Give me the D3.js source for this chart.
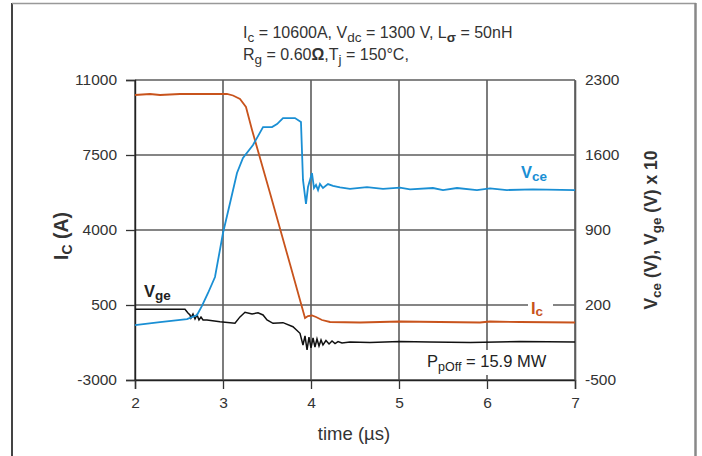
<!DOCTYPE html>
<html>
<head>
<meta charset="utf-8">
<script src="https://cdn.jsdelivr.net/npm/d3@7"></script>
<style>
  body { margin: 0; background: #fff; }
  text { font-family: "Liberation Sans", Arial, Helvetica, sans-serif; fill: #333; }
</style>
</head>
<body>
<div id="chart"></div>
<script>
// ---- data ----
var xTicks = [2, 3, 4, 5, 6, 7];
var leftTicks = [-3000, 500, 4000, 7500, 11000];
var rightTicks = [-500, 200, 900, 1600, 2300];

// collector current (A)
var icTime = [2.0, 2.17, 2.284, 2.511, 3.045, 3.114, 3.193, 3.261, 3.33, 3.534, 3.761, 3.932, 3.966, 4.011, 4.057, 4.125, 4.216, 4.557, 5.011, 5.466, 5.92, 6.034, 6.375, 7.0];
var icVal  = [10300, 10347, 10300, 10347, 10347, 10277, 10113, 9740, 8667, 5727, 2413, -107, -13, 10, -60, -200, -293, -317, -270, -293, -317, -270, -293, -317];

// collector-emitter voltage (V)
var vceTime = [2.0, 2.284, 2.591, 2.705, 2.761, 2.83, 2.909, 3.0, 3.08, 3.159, 3.227, 3.341, 3.455, 3.557, 3.614, 3.682, 3.818, 3.886, 3.909, 3.943, 3.966, 4.011, 4.034, 4.057, 4.08, 4.102, 4.136, 4.193, 4.25, 4.33, 4.443, 4.636, 4.818, 5.011, 5.125, 5.386, 5.5, 5.659, 5.886, 6.034, 6.227, 6.523, 7.0];
var vceVal  = [13, 41, 69, 107, 191, 312, 461, 872, 1152, 1432, 1572, 1693, 1861, 1861, 1889, 1945, 1945, 1908, 1367, 1143, 1301, 1432, 1292, 1320, 1273, 1329, 1292, 1329, 1311, 1297, 1283, 1301, 1283, 1295, 1280, 1292, 1273, 1292, 1273, 1289, 1273, 1280, 1273];

// gate-emitter voltage (V), plotted x10 on the right axis
var vgeTime = [2.0, 2.568, 2.602, 2.625, 2.636, 2.659, 2.682, 2.705, 2.727, 2.75, 2.773, 2.818, 2.966, 3.136, 3.193, 3.25, 3.33, 3.398, 3.455, 3.5, 3.568, 3.682, 3.795, 3.875, 3.909, 3.932, 3.955, 3.977, 4.0, 4.023, 4.045, 4.068, 4.091, 4.114, 4.136, 4.17, 4.205, 4.239, 4.273, 4.307, 4.352, 4.443, 4.67, 5.01, 5.35, 5.81, 6.375, 7.0];
var vgeVal  = [16.0, 16.0, 12.5, 10.7, 7.9, 11.6, 6.9, 10.7, 6.0, 8.8, 6.0, 6.0, 4.4, 2.9, 8.9, 13.2, 11.6, 12.8, 10.7, 6.0, 2.9, 3.5, -0.3, -6.4, -17.3, -8.9, -22.0, -9.9, -20.1, -10.8, -19.2, -11.7, -18.3, -12.7, -17.3, -13.1, -16.4, -13.6, -16.0, -14.1, -15.5, -14.5, -15.0, -14.1, -14.5, -15.0, -14.1, -14.5];

var W = 702, H = 456;
var margin = {top: 80, right: 127, bottom: 76, left: 135},
    width = W - margin.left - margin.right,
    height = H - margin.top - margin.bottom;

var svg = d3.select("#chart").append("svg")
    .attr("width", W)
    .attr("height", H);

// outer frame
svg.append("line").attr("x1", 12).attr("x2", 12).attr("y1", 3).attr("y2", 460)
    .attr("stroke", "#444").attr("stroke-width", 2);
svg.append("line").attr("x1", 12).attr("x2", 696).attr("y1", 3.5).attr("y2", 3.5)
    .attr("stroke", "#999").attr("stroke-width", 1.5);
svg.append("line").attr("x1", 695.5).attr("x2", 695.5).attr("y1", 3).attr("y2", 460)
    .attr("stroke", "#888").attr("stroke-width", 2.5);

var g = svg.append("g")
    .attr("transform", "translate(" + margin.left + "," + margin.top + ")");

var x = d3.scaleLinear().domain([2, 7]).range([0, width]);
var yL = d3.scaleLinear().domain([-3000, 11000]).range([height, 0]);
var yR = d3.scaleLinear().domain([-500, 2300]).range([height, 0]);

// grid
g.selectAll(".vgrid").data(xTicks).enter().append("line")
    .attr("x1", function(d) { return x(d); })
    .attr("x2", function(d) { return x(d); })
    .attr("y1", 0).attr("y2", height)
    .attr("stroke", "#5c5c5c").attr("stroke-width", 1.6);
g.selectAll(".hgrid").data(leftTicks).enter().append("line")
    .attr("x1", 0).attr("x2", width)
    .attr("y1", function(d) { return yL(d); })
    .attr("y2", function(d) { return yL(d); })
    .attr("stroke", "#5c5c5c").attr("stroke-width", 1.6);

var plain = function(d) { return String(d); };

// left and bottom axes (ticks outward)
var axL = g.append("g")
    .call(d3.axisLeft(yL).tickValues(leftTicks).tickFormat(plain).tickSize(9).tickPadding(9));
var axB = g.append("g")
    .attr("transform", "translate(0," + height + ")")
    .call(d3.axisBottom(x).tickValues(xTicks).tickFormat(plain).tickSize(9).tickPadding(8));
var axR = g.append("g")
    .attr("transform", "translate(" + width + ",0)")
    .call(d3.axisRight(yR).tickValues(rightTicks).tickFormat(plain).tickSize(0).tickPadding(10));

[axL, axB].forEach(function(a) {
  a.select(".domain").attr("stroke", "#222").attr("stroke-width", 1.4);
  a.selectAll(".tick line").attr("stroke", "#333").attr("stroke-width", 1.3);
});
axR.select(".domain").attr("stroke", "#5c5c5c").attr("stroke-width", 1.6);
[axL, axB, axR].forEach(function(a) {
  a.selectAll(".tick text")
    .attr("font-size", 15.5)
    .attr("font-family", "Liberation Sans, Arial, sans-serif")
    .attr("fill", "#333");
});

// white boxes that break the grid behind inline labels
g.append("rect").attr("x", 528 - margin.left).attr("y", 298 - margin.top)
    .attr("width", 25).attr("height", 19).attr("fill", "#fff");
g.append("rect").attr("x", 425 - margin.left).attr("y", 350 - margin.top)
    .attr("width", 128).attr("height", 25).attr("fill", "#fff");

// curves
function series(times, vals, yScale, k) {
  return times.map(function(t, i) { return [x(t), yScale(vals[i] * k)]; });
}
var line = d3.line().curve(d3.curveLinear);

g.append("path")
    .attr("d", line(series(vgeTime, vgeVal, yR, 10)))
    .attr("fill", "none").attr("stroke", "#111").attr("stroke-width", 1.5);
g.append("path")
    .attr("d", line(series(icTime, icVal, yL, 1)))
    .attr("fill", "none").attr("stroke", "#c8531c").attr("stroke-width", 1.8);
g.append("path")
    .attr("d", line(series(vceTime, vceVal, yR, 1)))
    .attr("fill", "none").attr("stroke", "#1a8fd4").attr("stroke-width", 1.8);

// text with subscripts: parts = [[text, isSub, extraWeight]]
function richText(sel, parts, size, subSize, subDy) {
  var cur = false;
  parts.forEach(function(p) {
    var ts = sel.append("tspan").text(p[0]);
    var dy = 0;
    if (p[1] && !cur) dy = subDy;
    if (!p[1] && cur) dy = -subDy;
    if (dy) ts.attr("dy", dy);
    ts.attr("font-size", p[1] ? subSize : size);
    if (p[2]) ts.attr("font-weight", p[2]);
    cur = p[1];
  });
  return sel;
}

// title
richText(svg.append("text").attr("x", 243).attr("y", 38),
  [["I", false], ["c", true], [" = 10600A, V", false], ["dc", true], [" = 1300 V, L", false], ["σ", true, "bold"], [" = 50nH", false]],
  16, 13.5, 4);
richText(svg.append("text").attr("x", 243).attr("y", 60),
  [["R", false], ["g", true], [" = 0.60", false], ["Ω", false, "bold"], [",T", false], ["j", true], [" = 150°C,", false]],
  16, 13.5, 4);

// axis titles
richText(svg.append("text").attr("x", 354).attr("y", 440).attr("text-anchor", "middle"),
  [["time (µs)", false]], 18.5, 13, 4);

richText(svg.append("text")
    .attr("transform", "translate(68,236) rotate(-90)")
    .attr("text-anchor", "middle").attr("font-weight", "bold"),
  [["I", false], ["C", true], [" (A)", false]], 19.5, 14, 4);

richText(svg.append("text")
    .attr("transform", "translate(657,230) rotate(-90)")
    .attr("text-anchor", "middle").attr("font-weight", "bold"),
  [["V", false], ["ce", true], [" (V), V", false], ["ge", true], [" (V) x 10", false]], 17.5, 13.5, 4);

// series labels
richText(svg.append("text").attr("x", 521).attr("y", 178)
    .attr("font-weight", "bold"),
  [["V", false], ["ce", true]], 16.5, 13.5, 3).selectAll("tspan").style("fill", "#1a8fd4");
richText(svg.append("text").attr("x", 531).attr("y", 314)
    .attr("font-weight", "bold"),
  [["I", false], ["c", true]], 16.5, 13.5, 2).selectAll("tspan").style("fill", "#c8531c");
richText(svg.append("text").attr("x", 144).attr("y", 297).attr("font-weight", "bold"),
  [["V", false], ["ge", true]], 16.5, 13.5, 3).selectAll("tspan").style("fill", "#222");
richText(svg.append("text").attr("x", 427).attr("y", 367),
  [["P", false], ["pOff", true], [" = 15.9 MW", false]], 16.5, 12.5, 4).selectAll("tspan").style("fill", "#222");
</script>
</body>
</html>
